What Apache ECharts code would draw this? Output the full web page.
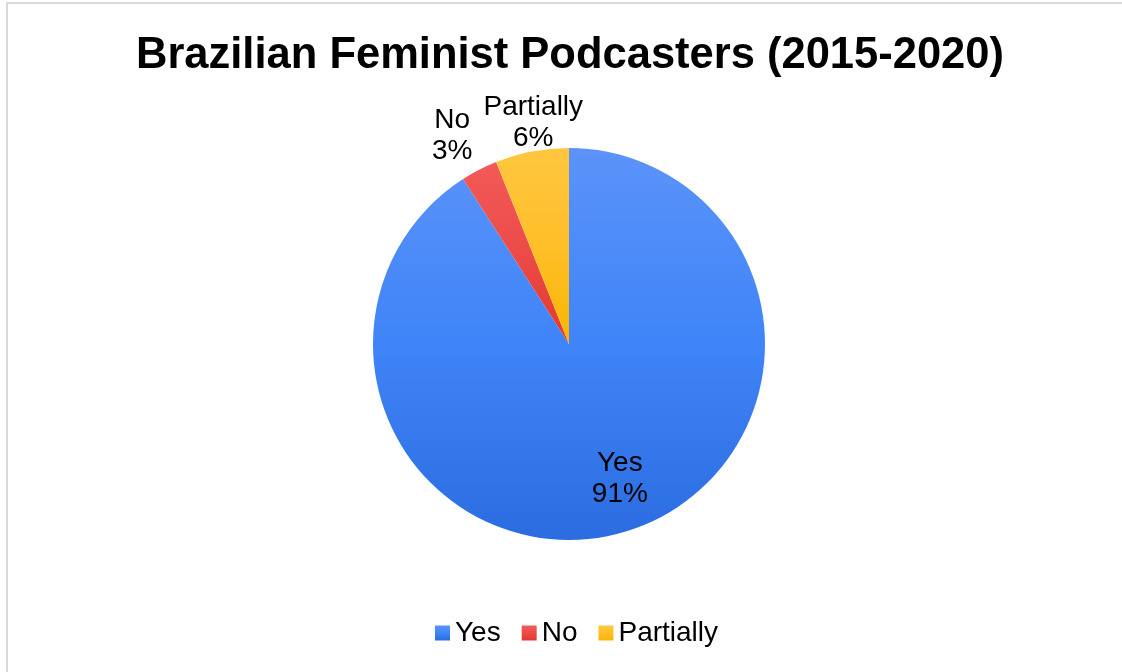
<!DOCTYPE html>
<html>
<head>
<meta charset="utf-8">
<style>
html,body{margin:0;padding:0;background:#fff;}
#chart{width:1122px;height:672px;}
</style>
<script src="https://cdn.jsdelivr.net/npm/echarts@6/dist/echarts.min.js"></script>
</head>
<body>
<div id="chart"></div>
<script>
var titleText = 'Brazilian Feminist Podcasters (2015-2020)';
var categories = ['Yes', 'No', 'Partially'];
var values = [30, 1, 2];
var colorsTop = ['#5b93f9', '#f25a58', '#ffc63e'];
var colorsMid = ['#3f84f8', '#ec4b48', '#ffbf2a'];
var colorsBottom = ['#2b6de0', '#e2382e', '#f7b600'];

function grad(i) {
  return new echarts.graphic.LinearGradient(0, 0, 0, 1, [
    {offset: 0, color: colorsTop[i]},
    {offset: 0.5, color: colorsMid[i]},
    {offset: 1, color: colorsBottom[i]}
  ]);
}

var mainData = categories.map(function (c, i) {
  return {name: c, value: values[i], itemStyle: {color: grad(i)}};
});

var labelStyle = {
  show: true,
  position: 'inside',
  formatter: '{b}\n{d}%',
  fontFamily: 'Liberation Sans, Arial, sans-serif',
  fontSize: 28,
  lineHeight: 31,
  color: '#000',
  align: 'center'
};

// small pixel nudges for label placement (styling only)
var labelNudge = [[10, -4], [-5, 9], [8, 6]];

function ghostData(showIdx) {
  return categories.map(function (c, i) {
    return {
      name: c, value: values[i],
      itemStyle: {color: 'rgba(0,0,0,0)'},
      label: {show: showIdx.indexOf(i) >= 0, offset: labelNudge[i]}
    };
  });
}

function ghost(radius, showIdx) {
  return {
    type: 'pie',
    center: center,
    radius: radius,
    startAngle: 90,
    clockwise: true,
    percentPrecision: 0,
    silent: true,
    avoidLabelOverlap: false,
    labelLayout: {hideOverlap: false},
    label: labelStyle,
    labelLine: {show: false},
    emphasis: {disabled: true},
    data: ghostData(showIdx)
  };
}

var center = [569, 344];
var chart = echarts.init(document.getElementById('chart'));
chart.setOption({
  backgroundColor: '#fff',
  animation: false,
  title: {
    text: titleText,
    left: 131,
    top: 29,
    textStyle: {fontFamily: 'Liberation Sans, Arial, sans-serif', fontWeight: 'bold', fontSize: 43.5, color: '#000'}
  },
  legend: {
    data: categories,
    bottom: 20,
    left: 430,
    icon: 'rect',
    itemWidth: 15,
    itemHeight: 15,
    itemGap: 21,
    textStyle: {fontFamily: 'Liberation Sans, Arial, sans-serif', fontSize: 28, color: '#000'}
  },
  graphic: [{
    type: 'rect',
    shape: {x: 7, y: 3, width: 1130, height: 690},
    style: {fill: 'none', stroke: '#d9d9d9', lineWidth: 2},
    silent: true,
    z: 100
  }],
  series: [
    {
      type: 'pie',
      center: center,
      radius: [0, 196],
      startAngle: 90,
      clockwise: true,
      percentPrecision: 0,
      label: {show: false},
      labelLine: {show: false},
      emphasis: {disabled: true},
      data: mainData
    },
    ghost([88, 196], [0]),
    ghost([200, 282], [1]),
    ghost([200, 256], [2])
  ]
});
</script>
</body>
</html>
